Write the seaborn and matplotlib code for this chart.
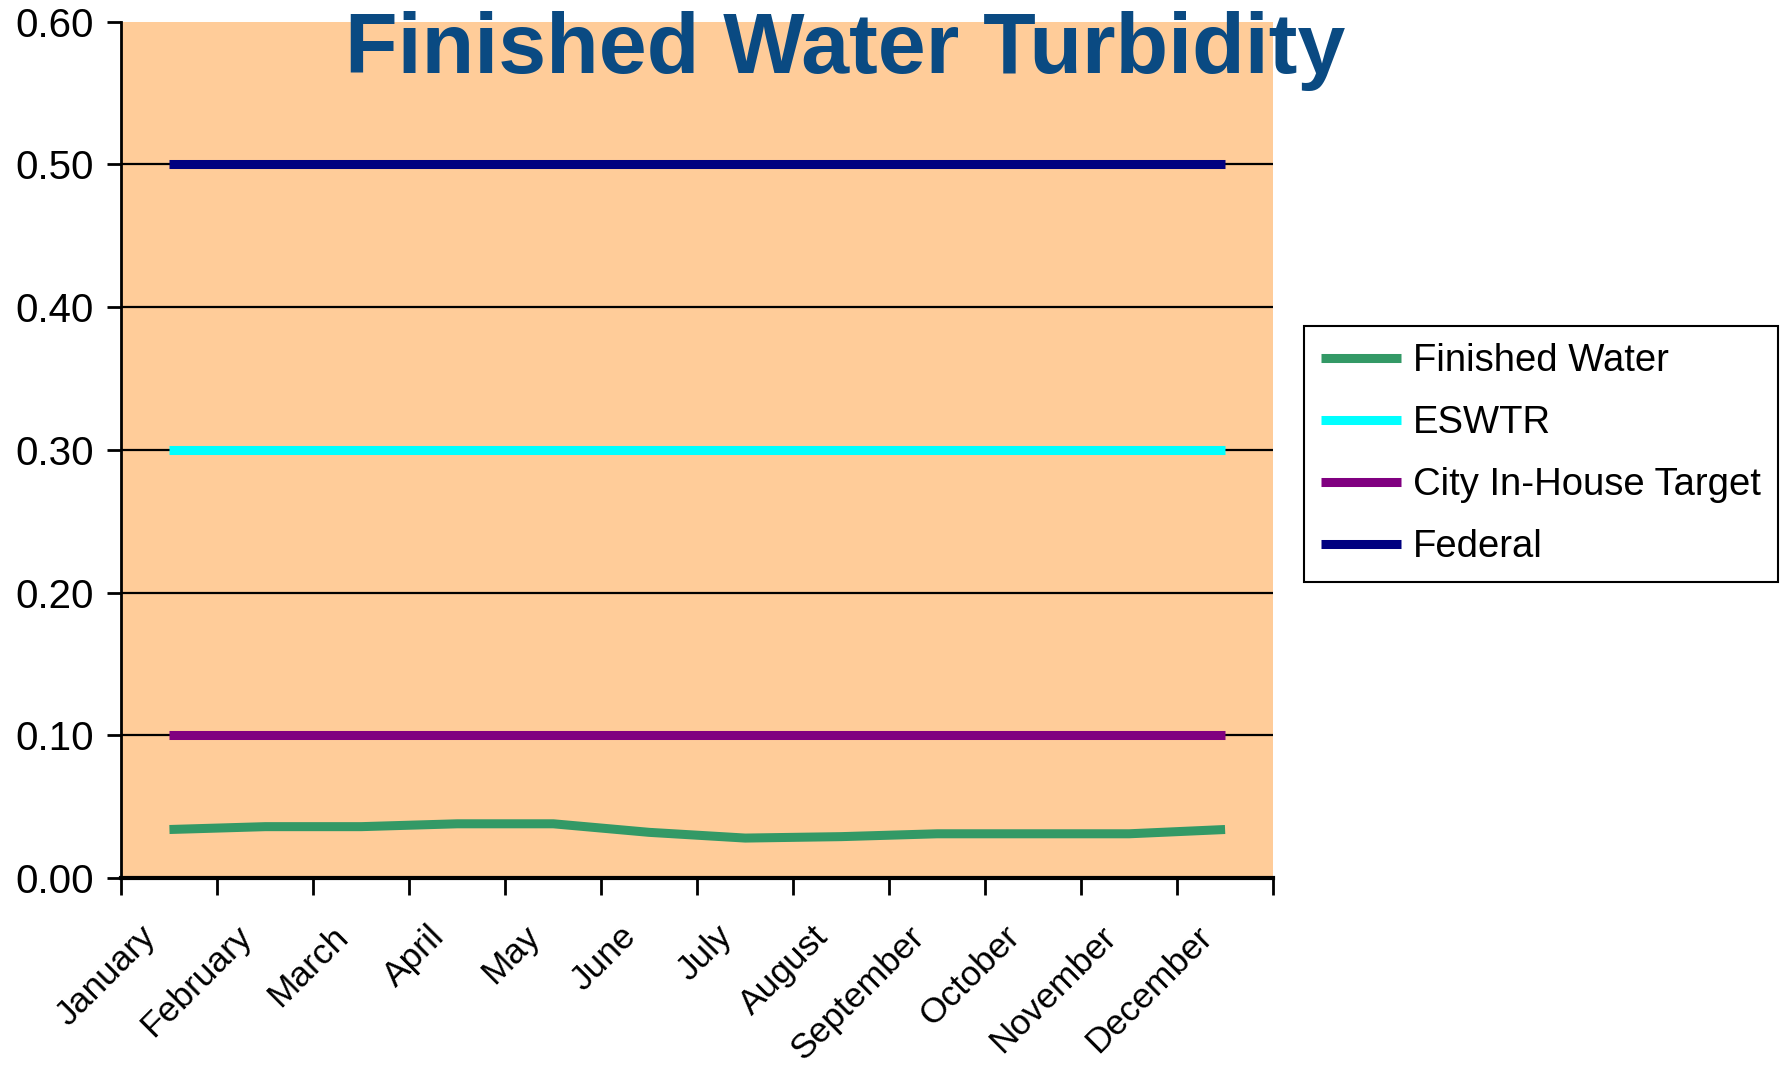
import pandas as pd
import seaborn as sns
import matplotlib.pyplot as plt
import matplotlib.transforms as mtransforms
from matplotlib.ticker import FixedLocator

months = ["January", "February", "March", "April", "May", "June", "July",
          "August", "September", "October", "November", "December"]
finished_water = [0.034, 0.036, 0.036, 0.038, 0.038, 0.032, 0.028, 0.029, 0.031, 0.031, 0.031, 0.034]
eswtr = [0.30] * 12
city_target = [0.10] * 12
federal = [0.50] * 12

series_names = ["Finished Water", "ESWTR", "City In-House Target", "Federal"]
series_values = [finished_water, eswtr, city_target, federal]
colors = ["#339966", "#00FFFF", "#800080", "#000080"]
y_ticks = [0.0, 0.1, 0.2, 0.3, 0.4, 0.5, 0.6]


def main():
    sns.set_theme(style="white")
    plt.rcParams["font.family"] = ["Liberation Sans", "DejaVu Sans"]
    plt.rcParams["text.color"] = "black"
    plt.rcParams["xtick.color"] = "black"
    plt.rcParams["ytick.color"] = "black"

    rows = []
    for name, vals in zip(series_names, series_values):
        for i, v in enumerate(vals):
            rows.append({"idx": i, "value": v, "series": name})
    df = pd.DataFrame(rows)

    fig = plt.figure(figsize=(17.81, 10.67), dpi=100)
    ax = fig.add_axes([0.0682, 0.1771, 0.6466, 0.8027])
    ax.set_facecolor("#FFCC99")

    for y in y_ticks[1:-1]:
        ax.axhline(y, color="black", lw=1.6, zorder=1)

    sns.lineplot(data=df, x="idx", y="value", hue="series", hue_order=series_names,
                 palette=colors, linewidth=6.5, ax=ax, legend=True, zorder=3,
                 solid_capstyle="butt")

    ax.set_xlim(-0.5, 11.5)
    ax.set_ylim(0, 0.6)
    ax.set_xlabel("")
    ax.set_ylabel("")

    ax.set_yticks(y_ticks)
    ax.set_yticklabels([f"{v:.2f}" for v in y_ticks], fontsize=29)
    ax.tick_params(axis="y", length=10, width=2, color="black", direction="out", left=True, pad=10)

    ax.set_xticks(range(12))
    ax.set_xticklabels(months, fontsize=25.5, rotation=45, ha="right", rotation_mode="anchor")
    ax.tick_params(axis="x", which="major", length=0, pad=30)
    ax.xaxis.set_minor_locator(FixedLocator([i - 0.5 for i in range(13)]))
    ax.tick_params(axis="x", which="minor", length=12, width=2, color="black", direction="out", bottom=True)

    # shift rotated month labels a bit to the left, like the original
    offset = mtransforms.ScaledTranslation(-0.3, 0, fig.dpi_scale_trans)
    for lbl in ax.get_xticklabels():
        lbl.set_transform(lbl.get_transform() + offset)

    for side in ["top", "right"]:
        ax.spines[side].set_visible(False)
    ax.spines["left"].set_color("black")
    ax.spines["left"].set_linewidth(2)
    ax.spines["bottom"].set_color("black")
    ax.spines["bottom"].set_linewidth(3)

    ax.get_legend().remove()
    handles, labels = ax.get_legend_handles_labels()
    leg = fig.legend(handles[:4], labels[:4], loc="upper left", bbox_to_anchor=(0.732, 0.6945),
                     fontsize=27.5, frameon=True, fancybox=False, edgecolor="black",
                     framealpha=1, handlelength=2.1, labelspacing=0.68, borderpad=0.45,
                     handletextpad=0.3, borderaxespad=0)
    leg.get_frame().set_linewidth(1.5)

    fig.text(0.4745, 0.932, "Finished Water Turbidity", fontsize=62, fontweight="bold",
             color="#0A4A82", ha="center", va="baseline")

    fig.savefig("out.png", dpi=100)


if __name__ == "__main__":
    main()
